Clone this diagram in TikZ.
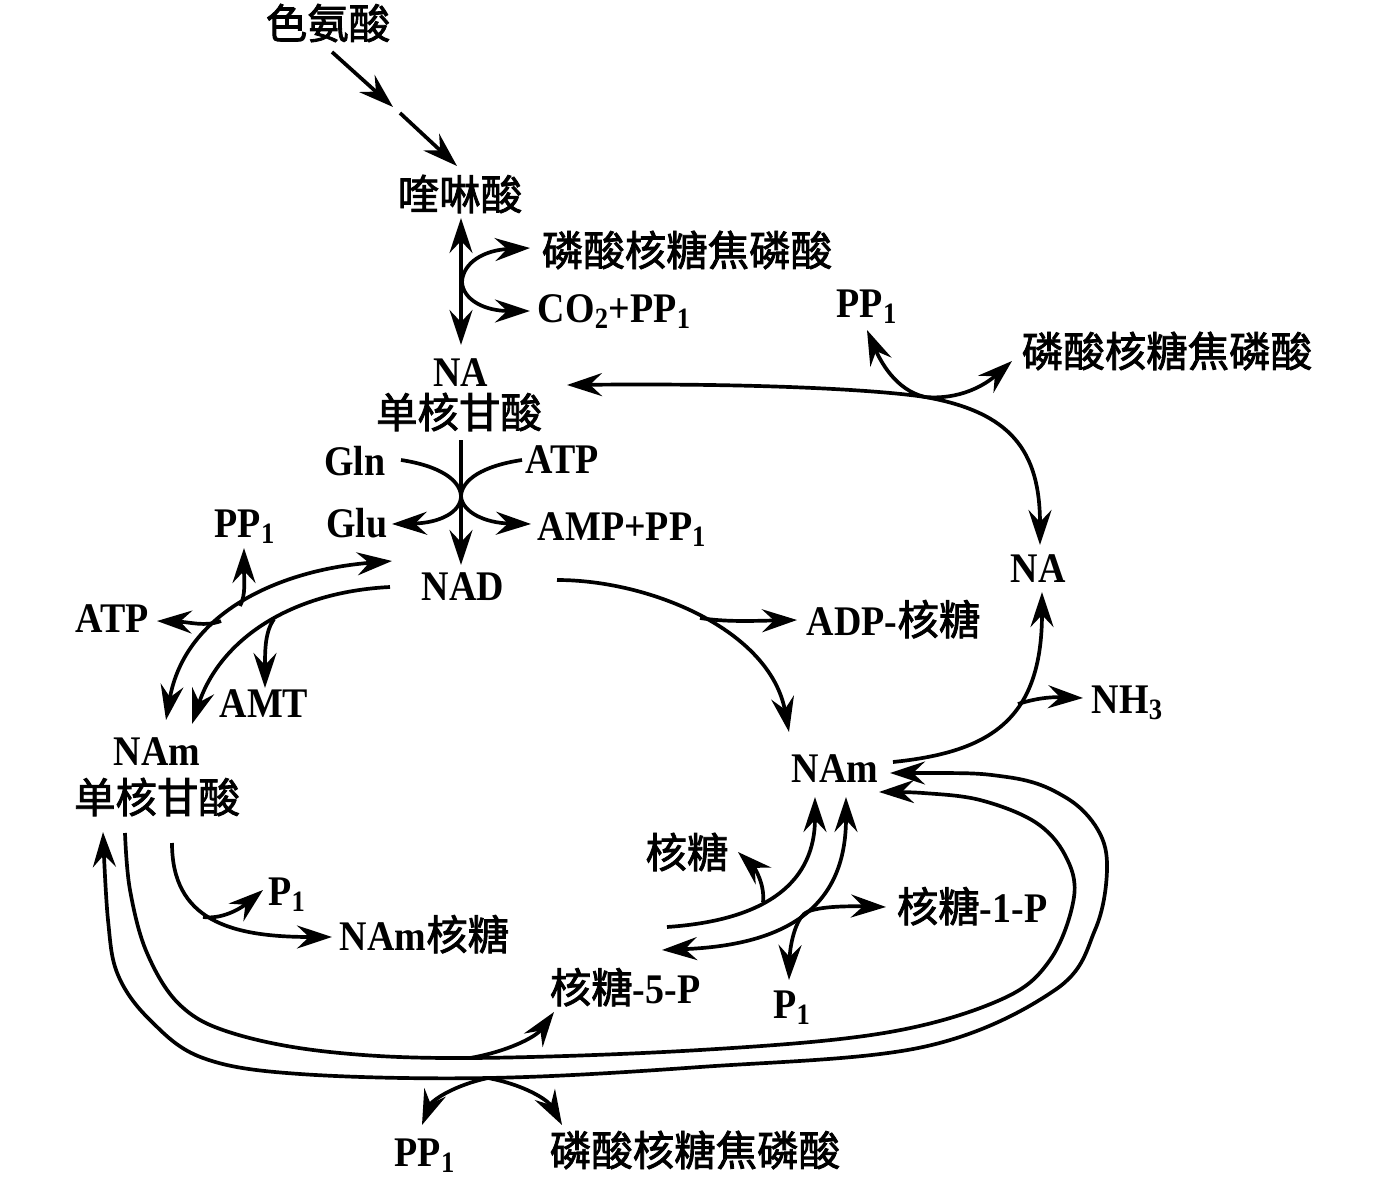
\documentclass[tikz,border=0pt]{standalone}
\usepackage{fontspec}
\setmainfont{Liberation Serif}[FakeStretch=0.9]
\newfontfamily\cjk{Noto Sans CJK SC}[FakeBold=2]
\usetikzlibrary{arrows.meta, positioning, calc}
\newcommand{\zhtext}[1]{{\fontsize{23.6}{28}\cjk\mdseries #1}}

\begin{document}
\begin{tikzpicture}[x=0.02cm, y=-0.02cm, >={Stealth[length=7mm, width=4.6mm, inset=2.4mm]},
    line width=2.1pt,
    lbl/.style={inner sep=0pt, font=\fontsize{24}{28}\selectfont\bfseries},
    zh/.style={inner sep=0pt, font=\fontsize{23.6}{28}\selectfont\cjk\mdseries}]

    % Frame
    \useasboundingbox (0,0) rectangle (1387,1186);

    % Upper chain
    \node[zh] (trp) at (328,23) {色氨酸};
    \node[zh] (quin) at (460,194) {喹啉酸};
    \node[zh, anchor=west] (prppa) at (540,250) {磷酸核糖焦磷酸};
    \node[lbl, anchor=base west] (co2) at (536,322) {CO\textsubscript{2}+PP\textsubscript{1}};
    \node[lbl, anchor=base] (naa) at (461,386) {NA};
    \node[zh] (nmna) at (459,412) {单核甘酸};
    \node[lbl, anchor=base] (gln) at (355,475) {Gln};
    \node[lbl, anchor=base] (glu) at (357,537) {Glu};
    \node[lbl, anchor=base] (atpa) at (562,473) {ATP};
    \node[lbl, anchor=base west] (amp) at (536,540) {AMP+PP\textsubscript{1}};
    \node[lbl, anchor=base] (nad) at (463,600) {NAD};

    % Left side
    \node[lbl, anchor=base] (ppa) at (245,537) {PP\textsubscript{1}};
    \node[lbl, anchor=base] (atpb) at (112,632) {ATP};
    \node[lbl, anchor=base] (amt) at (264,717) {AMT};
    \node[lbl, anchor=base] (nama) at (157,765) {NAm};
    \node[zh] (nmnb) at (157,797) {单核甘酸};
    \node[lbl, anchor=base] (pia) at (287,905) {P\textsubscript{1}};
    \node[lbl, anchor=base west] (namr) at (338,950) {NAm\zhtext{核糖}};

    % Right side
    \node[lbl, anchor=base] (ppb) at (867,317) {PP\textsubscript{1}};
    \node[zh, anchor=west] (prppb) at (1020,351) {磷酸核糖焦磷酸};
    \node[lbl, anchor=base] (nab) at (1038,582) {NA};
    \node[lbl, anchor=base west] (adpr) at (805,635) {ADP-\zhtext{核糖}};
    \node[lbl, anchor=base west] (nh3) at (1090,713) {NH\textsubscript{3}};
    \node[lbl, anchor=base] (namb) at (835,782) {NAm};
    \node[zh] (rib) at (687,852) {核糖};
    \node[lbl, anchor=base west] (r1p) at (895,922) {\zhtext{核糖}-1-P};
    \node[lbl, anchor=base] (pib) at (792,1018) {P\textsubscript{1}};
    \node[lbl, anchor=base west] (r5p) at (548,1003) {\zhtext{核糖}-5-P};

    % Bottom
    \node[lbl, anchor=base] (ppc) at (425,1166) {PP\textsubscript{1}};
    \node[zh, anchor=west] (prppc) at (548,1150) {磷酸核糖焦磷酸};

    % Branch points
    \coordinate (qb) at (462,282);
    \coordinate (gx) at (461,496);
    \coordinate (ob) at (240,606);
    \coordinate (oa) at (221,621);
    \coordinate (ib) at (274,619);
    \coordinate (db) at (700,618);
    \coordinate (hb) at (1018,704);
    \coordinate (nb) at (925,397);
    \coordinate (rb) at (763,902);
    \coordinate (sb) at (804,914);
    \coordinate (lb) at (203,917);
    \coordinate (fb) at (470,1058);
    \coordinate (pb) at (488,1078);

    % Tryptophan to quinolinic acid
    \draw[->] (332,52) -- (393,107);
    \draw[->] (400,113) -- (457,166);

    % Quinolinic acid to NA mononucleotide
    \draw[<->] (461,218) -- (461,345);
    \draw[->] (qb) .. controls (463,262) and (485,250) .. (530,248);
    \draw[->] (qb) .. controls (463,300) and (485,311) .. (530,311);

    % NA mononucleotide to NAD
    \draw[->] (461,440) -- (461,565);
    \draw[->] (401,460) .. controls (440,466) and (460,480) .. (gx)
        .. controls (461,512) and (440,523) .. (392,524);
    \draw[->] (522,460) .. controls (482,466) and (462,480) .. (gx)
        .. controls (462,512) and (485,523) .. (531,524);

    % NAD and NAm mononucleotide
    \draw[<->] (392,561) .. controls (280,570) and (185,612) .. (166,720);
    \draw[->] (ob) .. controls (246,595) and (244,580) .. (244,548);
    \draw[->] (oa) .. controls (205,627) and (190,622) .. (157,621);
    \draw[->] (390,587) .. controls (290,592) and (220,640) .. (192,724);
    \draw[->] (ib) .. controls (265,632) and (265,650) .. (265,688);

    % NAD to NAm
    \draw[->] (557,580) .. controls (650,580) and (770,630) .. (789,732);
    \draw[->] (db) .. controls (725,622) and (750,621) .. (797,620);

    % NAm to NA
    \draw[->] (893,762) .. controls (990,752) and (1042,720) .. (1042,592);
    \draw[->] (hb) .. controls (1040,697) and (1055,697) .. (1083,698);

    % NA to NA mononucleotide
    \draw[<->] (567,385) .. controls (760,383) and (880,390) .. (nb)
        .. controls (1010,412) and (1040,450) .. (1040,545);
    \draw[->] (nb) .. controls (895,390) and (880,360) .. (867,330);
    \draw[->] (nb) .. controls (960,400) and (985,385) .. (1012,361);

    % Ribose pathway to NAm
    \draw[->] (667,927) .. controls (770,920) and (815,880) .. (815,797);
    \draw[->] (rb) .. controls (765,885) and (755,868) .. (738,852);
    \draw[<->] (662,950) .. controls (790,945) and (846,905) .. (846,797);
    \draw[<->] (789,980) .. controls (790,945) and (795,922) .. (sb)
        .. controls (813,906) and (850,906) .. (886,907);

    % NAm mononucleotide to NAm riboside
    \draw[->] (172,843) .. controls (172,920) and (230,937) .. (332,937);
    \draw[->] (lb) .. controls (225,920) and (245,905) .. (263,890);

    % Long loops
    \draw[<->] plot[smooth, tension=0.6] coordinates {(890,773) (1007,777) (1065,797)
        (1098,830) (1107,870) (1095,930) (1055,990) (923,1047) (700,1067) (488,1078)
        (300,1074) (203,1058) (150,1020) (118,975) (108,920) (103,832)};
    \draw[->] plot[smooth, tension=0.6] coordinates {(125,833) (130,890) (147,953)
        (180,1005) (232,1033) (330,1052) (470,1058) (700,1050) (884,1033) (1000,1000)
        (1050,960) (1074,897) (1065,855) (1035,822) (980,800) (923,793) (879,792)};
    \draw[->] (fb) .. controls (505,1052) and (535,1038) .. (554,1012);
    \draw[->] (pb) .. controls (455,1085) and (432,1100) .. (422,1125);
    \draw[->] (pb) .. controls (525,1085) and (548,1100) .. (562,1125);

\end{tikzpicture}
\end{document}
